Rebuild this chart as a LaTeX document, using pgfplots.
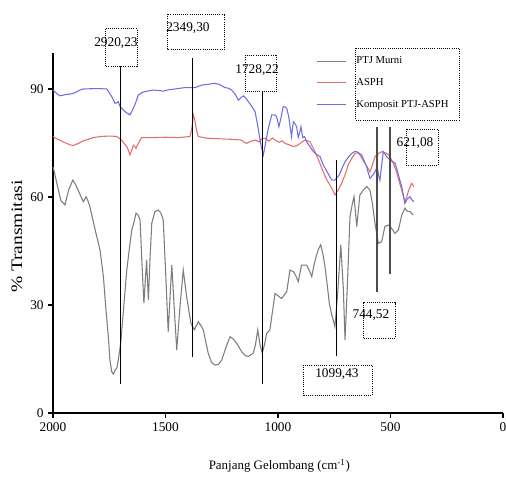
\documentclass[border=0pt]{standalone}
\usepackage{pgfplots}
\pgfplotsset{compat=1.18}
\usepackage{graphicx}
\usepackage{fontspec}
\setmainfont{Liberation Serif}
\definecolor{cgray}{RGB}{125,125,125}
\definecolor{cred}{RGB}{228,110,110}
\definecolor{cblue}{RGB}{110,110,228}
\begin{document}
\begin{tikzpicture}
\path[use as bounding box] (-39.75pt,-49.5pt) rectangle (339.75pt,309.75pt);
\begin{axis}[
  scale only axis, width=337.5pt, height=270pt,
  at={(0,0)}, anchor=south west,
  xmin=0, xmax=2000, ymin=0, ymax=100,
  x dir=reverse,
  axis lines=left, axis line style={-, line width=0.8pt},
  xtick={0,500,1000,1500,2000}, ytick={0,30,60,90},
  tick align=outside, major tick length=3.5pt,
  tick style={line width=0.8pt, black},
  ticklabel style={font=\fontsize{10}{12}\selectfont},
  /pgf/number format/assume math mode=true,
  /pgf/number format/1000 sep={},
  xlabel={Panjang Gelombang (cm\textsuperscript{-1})},
  ylabel={\scalebox{1.22}[1]{\% Transmitasi}},
  xlabel style={font=\fontsize{9.7}{12}\selectfont, at={(axis description cs:0.503,-0.147)}, anchor=center},
  ylabel style={font=\fontsize{12}{14}\selectfont, at={(axis description cs:-0.08,0.49)}, anchor=center},
  clip=false,
  legend image code/.code={\draw[#1] (0pt,0pt) -- (21.75pt,0pt);},
  legend style={at={(axis cs:831,99.6)}, anchor=north west, draw=none, fill=none,
    font=\fontsize{8}{9.5}\selectfont, inner sep=0pt, row sep=6.5pt,
    nodes={inner sep=1.5pt}, /tikz/every odd column/.append style={column sep=6pt}},
  legend cell align=left,
]
% PTJ Murni
\addplot[cgray, line width=0.8pt] coordinates {
(1999,68.3) (1980,63) (1965,59) (1947,57.8) (1930,62) (1912,64.7) (1900,63.5) (1888,61.9) (1875,60) (1865,58.7) (1853,60.1) (1845,59) (1836,57.3) (1815,51.5) (1791,45.3) (1776,37.9) (1765,29) (1754,21.2) (1747,14.7) (1739,11.5) (1732,10.8) (1724,11.9) (1716,12.5) (1710,14.7) (1699,19.4) (1685,30) (1672,39.7) (1660,46) (1650,50.8) (1640,53) (1631,55.5) (1622,55) (1613,53.6) (1605,42) (1596,30.5) (1584,42.5) (1576,31.4) (1568,44) (1561,52.7) (1547,55.9) (1532,56.4) (1520,55.5) (1510,53.6) (1500,40) (1488,22.6) (1472,41.1) (1460,28) (1450,17.5) (1435,30) (1421,39.7) (1406,32.3) (1387,24.9) (1372,23.1) (1354,25.4) (1340,24) (1332,23.1) (1320,19.5) (1310,16.6) (1295,14) (1280,13.3) (1265,13.5) (1250,14.7) (1230,18.5) (1213,21.2) (1198,20.5) (1184,19.4) (1161,17.0) (1145,16) (1132,15.7) (1110,16.6) (1100,19) (1090,23.1) (1080,19) (1070,16.6) (1060,19) (1050,22.1) (1036,23.1) (1025,28) (1013,33.2) (998,32.5) (984,31.8) (961,33.7) (947,39.7) (932,39.3) (920,38) (910,36.5) (895,41.1) (873,41.1) (860,39.5) (850,37.9) (840,41) (831,43.4) (820,45.5) (810,46.7) (800,44) (791,40.6) (780,35) (772,30.5) (760,27) (747,24.0) (735,33) (721,46.7) (710,35) (702,20.3) (692,35) (680,54.5) (670,58) (662,60.1) (650,51.8) (636,60.6) (621,61.9) (606,62.9) (591,61.9) (580,58) (569,52.7) (554,47.1) (539,47.6) (525,51.8) (510,52.2) (495,51.3) (480,49.9) (465,50.8) (450,55.0) (436,56.9) (425,56) (413,55.9) (399,55.0)
};
\addlegendentry{PTJ Murni}
% ASPH
\addplot[cred, line width=0.8pt] coordinates {
(1999,76.8) (1985,76.2) (1969,75.8) (1955,75.3) (1939,74.9) (1925,74.5) (1910,74.3) (1890,74.8) (1865,75.6) (1840,76.1) (1821,76.5) (1790,76.8) (1761,76.9) (1735,76.9) (1717,76.8) (1705,76.3) (1695,75.8) (1685,75) (1672,74.0) (1665,73) (1658,71.7) (1650,73) (1643,74.4) (1637,74.0) (1631,73.5) (1621,74.9) (1606,76.5) (1560,76.5) (1500,76.6) (1443,76.5) (1391,76.8) (1383,79) (1376,82.8) (1370,81.5) (1366,80.0) (1360,78) (1354,76.8) (1330,76.5) (1310,76.3) (1270,76.2) (1236,76.1) (1200,76) (1161,75.8) (1150,75.2) (1139,74.9) (1120,75.5) (1102,75.8) (1085,75.3) (1070,76.3) (1058,76.3) (1040,75.5) (1025,76.4) (1013,75.8) (995,75.2) (980,75.6) (969,74.9) (950,74.5) (932,74.0) (915,74.3) (902,74.9) (880,75.8) (858,75.4) (836,72.6) (818,70) (799,67.0) (785,65) (769,63.3) (757,62) (747,60.6) (732,62) (717,63.8) (700,66.5) (688,68.9) (670,71) (658,72.1) (645,72.3) (636,71.7) (625,70.5) (614,69.4) (600,68) (591,67.0) (580,69) (569,71.2) (555,72) (539,72.6) (517,72.1) (505,71.5) (495,70.3) (485,69) (473,67.0) (460,64) (450,61.9) (442,60) (436,58.7) (428,60) (421,61.5) (412,63) (406,63.8) (396,62.9)
};
\addlegendentry{ASPH}
% Komposit
\addplot[cblue, line width=0.8pt] coordinates {
(1999,89.7) (1985,88.8) (1969,88.1) (1955,88.3) (1939,88.5) (1925,88.6) (1910,88.8) (1895,89.2) (1880,89.7) (1865,90.0) (1820,90.1) (1790,90.1) (1761,90.0) (1750,89) (1739,87.9) (1730,86.8) (1724,86.0) (1715,86.2) (1710,86.5) (1702,85.1) (1690,84.3) (1675,83.5) (1658,82.8) (1648,84) (1636,85.6) (1628,87) (1621,88.3) (1605,89) (1591,89.3) (1554,89.7) (1530,89.6) (1510,89.4) (1485,89.8) (1458,90.0) (1413,90.4) (1369,90.4) (1355,90.7) (1339,91.1) (1310,91.3) (1280,91.6) (1258,91.2) (1236,90.4) (1220,90.2) (1206,89.7) (1190,88.5) (1176,86.9) (1165,87.6) (1154,88.1) (1143,87.5) (1132,86.5) (1118,85.3) (1102,83.7) (1095,81.5) (1088,79.1) (1080,76) (1076,74.4) (1070,73) (1065,71.7) (1055,75) (1043,79.1) (1035,81) (1028,82.8) (1015,82.8) (1006,82.3) (996,79.5) (987,81.9) (977,85.1) (968,85) (961,84.6) (953,82.5) (947,80.0) (940,76.8) (932,80.9) (924,80.3) (917,79.5) (910,76.5) (903,78) (898,79.5) (890,76.5) (882,76.8) (873,75.4) (858,74) (843,72.6) (828,71.8) (813,71.2) (799,68.9) (780,66.8) (761,64.7) (747,64.7) (728,66.1) (715,68) (702,69.8) (688,71) (673,72.1) (660,72.6) (650,72.6) (640,72.2) (628,71.7) (617,70) (606,68.4) (598,66.5) (591,65.2) (580,66) (569,67.0) (559,68.4) (553,66) (547,64.7) (540,68.5) (532,72.6) (525,72) (517,71.2) (502,70.3) (490,69.8) (480,69.4) (470,67.5) (460,65) (450,62.9) (443,60.5) (436,58.2) (425,59.5) (413,60.1) (405,59.2) (396,58.7)
};
\addlegendentry{Komposit PTJ-ASPH}
% vertical marker lines
\addplot[black, line width=0.7pt, forget plot] coordinates {(1702,8.1) (1702,96.4)};
\addplot[black, line width=0.7pt, forget plot] coordinates {(1378,15.6) (1378,98.6)};
\addplot[black, line width=0.7pt, forget plot] coordinates {(1071,8.1) (1071,89.2)};
\addplot[black, line width=0.7pt, forget plot] coordinates {(742,15.8) (742,70.3)};
\addplot[black!70, line width=0.9pt, forget plot] coordinates {(560,33.6) (560,79.4)};
\addplot[black!70, line width=0.9pt, forget plot] coordinates {(502,38.6) (502,79.4)};
% annotation boxes
\draw[densely dotted, line width=0.6pt] (axis cs:1769,106.7) rectangle (axis cs:1627,96.4);
\draw[densely dotted, line width=0.6pt] (axis cs:1493,110.8) rectangle (axis cs:1236,101.1);
\draw[densely dotted, line width=0.6pt] (axis cs:1147,99.4) rectangle (axis cs:1005,89.2);
\draw[densely dotted, line width=0.6pt] (axis cs:431,78.9) rectangle (axis cs:289,68.9);
\draw[densely dotted, line width=0.6pt] (axis cs:622,30.6) rectangle (axis cs:480,20.8);
\draw[densely dotted, line width=0.6pt] (axis cs:885,13.3) rectangle (axis cs:582,5.0);
\draw[densely dotted, line width=0.6pt] (axis cs:655,101.4) rectangle (axis cs:196,81.4);
% annotation texts
\node[font=\fontsize{10}{12}\selectfont, inner sep=0pt] at (axis cs:1720,102.8) {2920,23};
\node[font=\fontsize{10}{12}\selectfont, inner sep=0pt] at (axis cs:1400,106.9) {2349,30};
\node[font=\fontsize{10}{12}\selectfont, inner sep=0pt] at (axis cs:1093,95.3) {1728,22};
\node[font=\fontsize{10}{12}\selectfont, inner sep=0pt] at (axis cs:391,75.0) {621,08};
\node[font=\fontsize{10}{12}\selectfont, inner sep=0pt] at (axis cs:587,27.2) {744,52};
\node[font=\fontsize{10}{12}\selectfont, inner sep=0pt] at (axis cs:738,10.8) {1099,43};
\end{axis}
\end{tikzpicture}
\end{document}
